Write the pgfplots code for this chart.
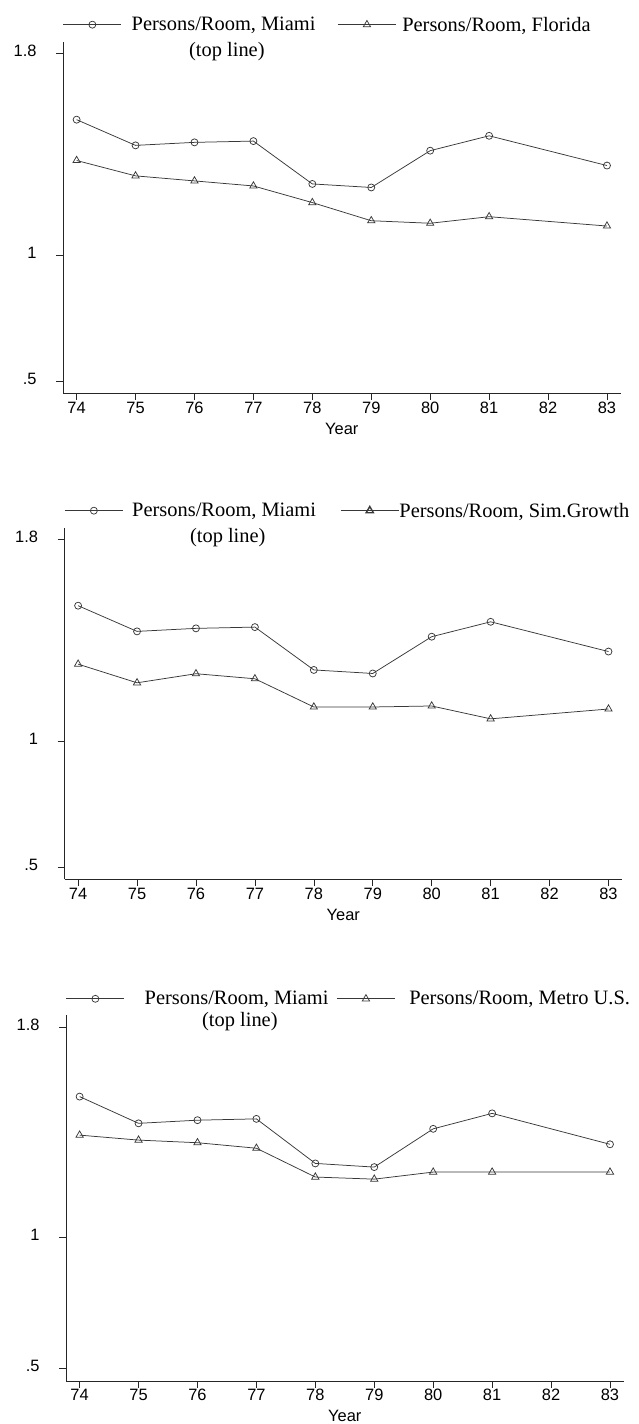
\documentclass[border=0pt]{standalone}
\usepackage{fontspec}
\setmainfont{Liberation Serif}
\newfontfamily\sansf{Liberation Sans}
\usepackage{pgfplots}
\pgfplotsset{compat=1.18}

\pgfplotsset{
  panel/.style={
    scale only axis, width=557.6bp,
    xmin=73.769, xmax=83.231, ymin=0.4524, ymax=1.8472,
    axis x line*=bottom, axis y line*=left,
    axis line style={-, black!85, line width=0.6bp},
    xtick={74,...,83}, ytick={0.5,1,1.8}, yticklabels={.5,1,1.8},
    tick align=outside, tick style={black!85, line width=0.6bp},
    major tick length=7bp,
    /pgf/number format/assume math mode=true,
    typeset ticklabels with strut,
    ticklabel style={font=\sansf\fontsize{16.5}{16.5}\selectfont},
    xticklabel style={yshift=2bp},
    yticklabel style={xshift=-16bp},
    xlabel={Year}, xlabel style={font=\sansf\fontsize{16.5}{16.5}\selectfont, yshift=2bp},
    legend columns=2,
    legend style={draw=none, fill=none, inner sep=0pt, outer sep=0pt,
      at={(axis description cs:0,1)}, anchor=south west,
      font=\fontsize{20.5}{24}\selectfont, nodes={inner sep=0pt}},
    legend image code/.code={\draw[mark repeat=2, mark phase=2, #1] plot coordinates {(0bp,0bp) (29bp,0bp) (58bp,0bp)};},
    every axis plot/.append style={line width=0.75bp, color=black!78},
    clip=false,
  },
  mia/.style={mark=o, mark size=3.5bp, mark options={solid}},
  cmp/.style={mark=triangle, mark size=4.2bp, mark options={solid}},
}

\pgfplotstableread{
year miami florida simgrowth metro
74 1.537 1.375 1.305 1.390
75 1.435 1.314 1.231 1.371
76 1.447 1.294 1.267 1.361
77 1.452 1.274 1.247 1.340
78 1.282 1.208 1.135 1.230
79 1.268 1.136 1.135 1.222
80 1.414 1.126 1.139 1.249
81 1.473 1.152 1.088 1.249
83 1.355 1.115 1.127 1.249
}\data

\begin{document}
\begin{tikzpicture}
\path[use as bounding box] (0,0) rectangle (639bp,-1424bp);

% Panel 1
\begin{axis}[panel, at={(63bp,-393bp)}, anchor=south west, height=351.5bp,
  legend style={yshift=9bp,
    /tikz/column 1/.style={column sep=10bp},
    /tikz/column 2/.style={column sep=22bp},
    /tikz/column 3/.style={column sep=6bp}}]
\addplot[mia] table[x=year, y=miami] {\data};
\addlegendentry{Persons/Room, Miami}
\addplot[cmp] table[x=year, y=florida] {\data};
\addlegendentry{Persons/Room, Florida}
\node[font=\fontsize{20.5}{24}\selectfont, inner sep=0pt] at (axis cs:76.55,1.807) {(top line)};
\end{axis}

% Panel 2
\begin{axis}[panel, at={(64.5bp,-879bp)}, anchor=south west, height=351.5bp,
  legend style={yshift=9bp,
    /tikz/column 1/.style={column sep=9bp},
    /tikz/column 2/.style={column sep=24bp},
    /tikz/column 3/.style={column sep=0bp}}]
\addplot[mia] table[x=year, y=miami] {\data};
\addlegendentry{Persons/Room, Miami}
\addplot[cmp, legend image post style={line width=1.4bp}] table[x=year, y=simgrowth] {\data};
\addlegendentry{Persons/Room, Sim.Growth}
\node[font=\fontsize{20.5}{24}\selectfont, inner sep=0pt] at (axis cs:76.54,1.807) {(top line)};
\end{axis}

% Panel 3
\begin{axis}[panel, at={(66bp,-1380.8bp)}, anchor=south west, height=365.5bp,
  legend style={yshift=9bp,
    /tikz/column 1/.style={column sep=20bp},
    /tikz/column 2/.style={column sep=8bp},
    /tikz/column 3/.style={column sep=14bp}}]
\addplot[mia] table[x=year, y=miami] {\data};
\addlegendentry{Persons/Room, Miami}
\addplot[cmp] table[x=year, y=metro] {\data};
\addlegendentry{Persons/Room, Metro U.S.}
\node[font=\fontsize{20.5}{24}\selectfont, inner sep=0pt] at (axis cs:76.72,1.822) {(top line)};
\end{axis}
\end{tikzpicture}
\end{document}
